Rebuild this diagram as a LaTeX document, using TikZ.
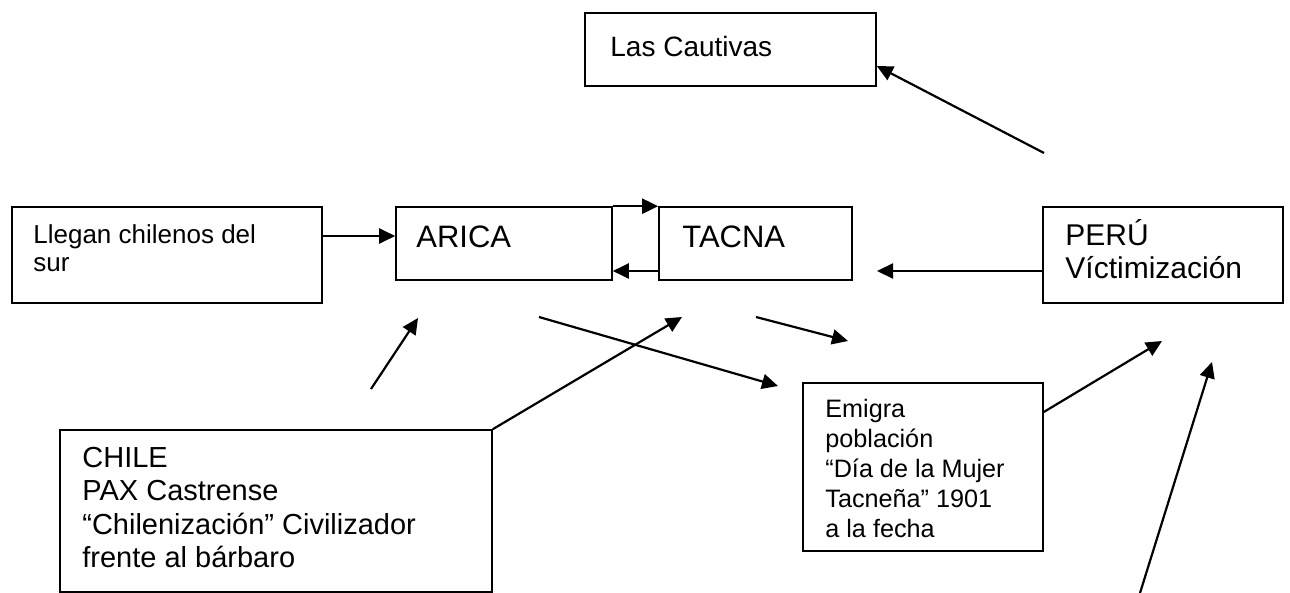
\documentclass[tikz,border=0pt]{standalone}
\usepackage{fontspec}
\setmainfont{Liberation Sans}
\usetikzlibrary{arrows.meta}
% lines of a box, first baseline is the node baseline
\newcommand{\boxlines}[2]{\vtop{\baselineskip=#1\lineskiplimit=-\maxdimen\halign{##\hfil\cr#2\crcr}}}
\tikzset{
  frame/.style={draw, line width=0.8pt, inner sep=0pt},
  txt/.style={anchor=base west, inner sep=0pt},
  arr/.style={line width=1.1pt, -{Triangle[length=8pt,width=7.5pt]}}
}
\begin{document}
\begin{tikzpicture}[x=0.5pt, y=-0.5pt]
  \useasboundingbox (0,0) rectangle (1290,593);
  % Boxes
  \node[frame, minimum width=145.5pt, minimum height=36.5pt] (cautivas) at (730.5,49.5) {};
  \node[frame, minimum width=155pt, minimum height=48pt] (llegan) at (167,255) {};
  \node[frame, minimum width=108pt, minimum height=36.5pt] (arica) at (504,243.5) {};
  \node[frame, minimum width=96.5pt, minimum height=36.5pt] (tacna) at (755.5,243.5) {};
  \node[frame, minimum width=120pt, minimum height=48pt] (peru) at (1163,255) {};
  \node[frame, minimum width=216pt, minimum height=81pt] (chile) at (276,511) {};
  \node[frame, minimum width=120pt, minimum height=84pt] (emigra) at (923,467) {};
  % Texts
  \node[txt, font=\fontsize{14}{16}\selectfont] (cautivastext) at (610,57) {Las Cautivas};
  \node[txt, font=\fontsize{13}{15}\selectfont] (llegantext) at (33,244)
    {\boxlines{13.5pt}{Llegan chilenos del\cr sur}};
  \node[txt, font=\fontsize{15.5}{18}\selectfont] (aricatext) at (416,248) {ARICA};
  \node[txt, font=\fontsize{15.5}{18}\selectfont] (tacnatext) at (682,248) {TACNA};
  \node[txt, font=\fontsize{15}{17}\selectfont] (perutext) at (1065,246)
    {\boxlines{16.5pt}{PERÚ\cr Víctimización}};
  \node[txt, font=\fontsize{14.5}{17}\selectfont] (chiletext) at (82,467)
    {\boxlines{16.75pt}{CHILE\cr PAX Castrense\cr “Chilenización” Civilizador\cr frente al bárbaro}};
  \node[txt, font=\fontsize{12.6}{15}\selectfont] (emigratext) at (825,417)
    {\boxlines{15pt}{Emigra\cr población\cr “Día de la Mujer\cr Tacneña” 1901\cr a la fecha}};
  % Free ends
  \coordinate (cautstart) at (1044,153);
  \coordinate (westtip) at (877,271);
  \coordinate (aricafoot) at (371,389);
  \coordinate (aricatip) at (418,318);
  \coordinate (tacnatip) at (682,317);
  \coordinate (crossstart) at (539,317);
  \coordinate (emigratip) at (778,386);
  \coordinate (shortstart) at (756,317);
  \coordinate (shorttip) at (848,341);
  \coordinate (perutip) at (1162,341);
  \coordinate (longstart) at (1140,593);
  \coordinate (longtip) at (1212,362);
  % Arrows
  \draw[arr] (llegan.east |- 0,236) -- (arica.west |- 0,236);
  \draw[arr] (arica.north east) -- (tacna.north west);
  \draw[arr] (tacna.west |- 0,271) -- (arica.east |- 0,271);
  \draw[arr] (peru.west |- 0,271) -- (westtip);
  \draw[arr] (cautstart) -- (cautivas.east |- 0,66);
  \draw[arr] (aricafoot) -- (aricatip);
  \draw[arr] (chile.north east) -- (tacnatip);
  \draw[arr] (crossstart) -- (emigratip);
  \draw[arr] (shortstart) -- (shorttip);
  \draw[arr] (emigra.east |- 0,412) -- (perutip);
  \draw[arr] (longstart) -- (longtip);
\end{tikzpicture}
\end{document}
